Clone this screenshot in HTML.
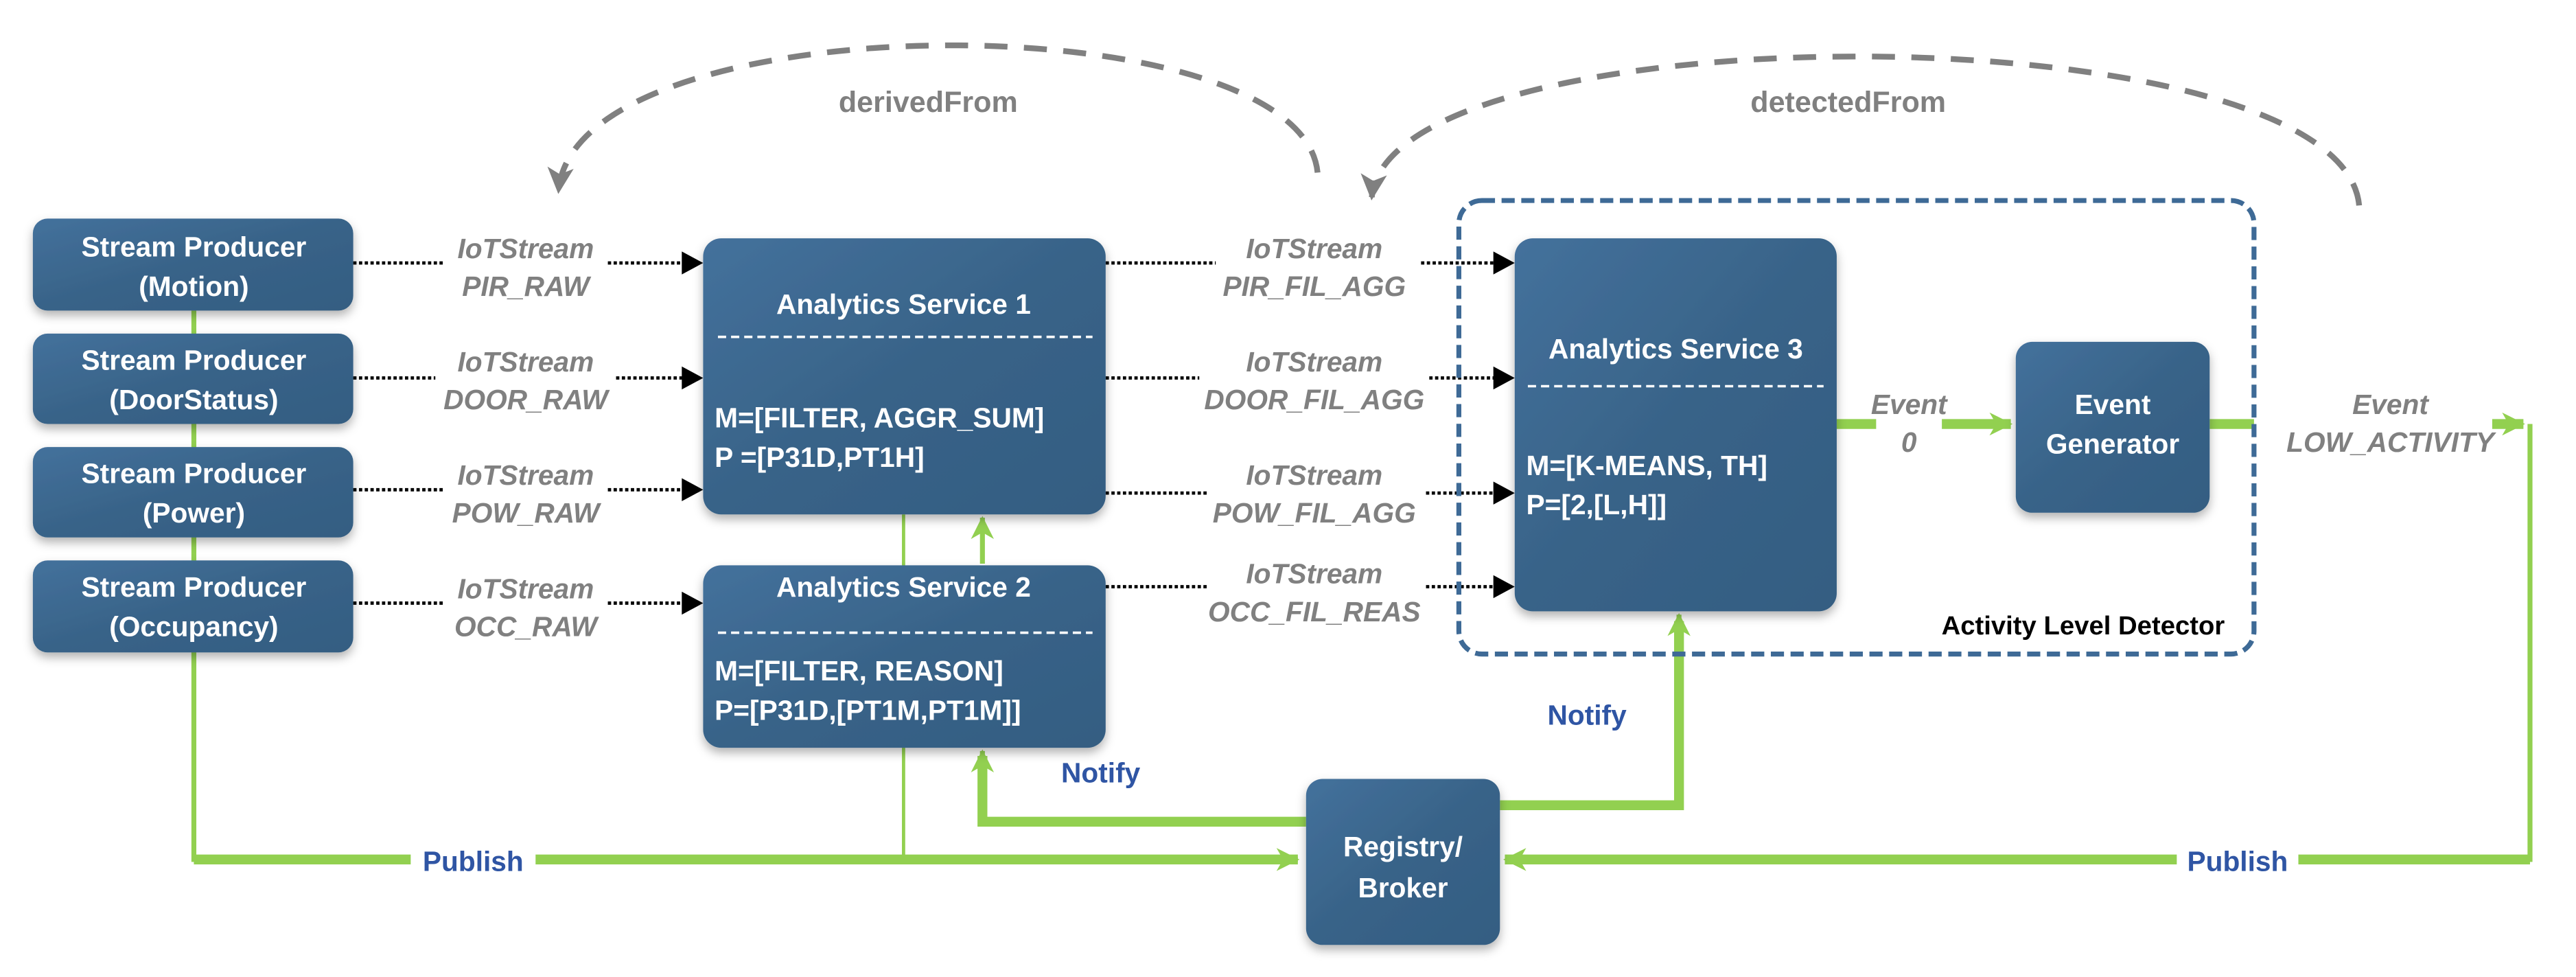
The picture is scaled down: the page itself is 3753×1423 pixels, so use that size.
<!DOCTYPE html>
<html><head><meta charset="utf-8"><style>html,body{margin:0;padding:0;background:#fff}svg{display:block}</style></head>
<body>
<svg width="3753" height="1423" viewBox="0 0 1568 594.5" xmlns="http://www.w3.org/2000/svg" font-family="Liberation Sans, sans-serif">
<defs>
<linearGradient id="g" x1="0" y1="0" x2="1" y2="1"><stop offset="0" stop-color="#44719c"/><stop offset="0.5" stop-color="#386388"/><stop offset="1" stop-color="#345d82"/></linearGradient>
<filter id="sh" x="-20%" y="-20%" width="140%" height="140%"><feDropShadow dx="0" dy="3" stdDeviation="3" flood-color="#000" flood-opacity="0.3"/></filter>
<marker id="ag" markerWidth="14" markerHeight="14" refX="13" refY="7" orient="auto" markerUnits="userSpaceOnUse"><path d="M0,0 L14,7 L0,14 L4,7 z" fill="#92d050"/></marker>
<marker id="agr" markerWidth="16" markerHeight="16" refX="14" refY="8" orient="auto" markerUnits="userSpaceOnUse"><path d="M0,0 L16,8 L0,16 L4,8 z" fill="#808080"/></marker>
</defs>

<!-- dashed arcs -->
<path d="M802,105 C792,0 350,0 340,116" fill="none" stroke="#808080" stroke-width="3.5" stroke-dasharray="14,10" marker-end="url(#agr)"/>
<path d="M1436,125 C1425,5 845,5 835,120" fill="none" stroke="#808080" stroke-width="3.5" stroke-dasharray="14,10" marker-end="url(#agr)"/>
<text x="565" y="68" font-size="18" font-weight="bold" fill="#808080" text-anchor="middle">derivedFrom</text>
<text x="1125" y="68" font-size="18" font-weight="bold" fill="#808080" text-anchor="middle">detectedFrom</text>

<!-- green lines -->
<g fill="none" stroke="#92d050">
<path d="M118,189 V523 H790" stroke-width="3"/>
<path d="M118,523 H790" stroke-width="6" marker-end="url(#ag)"/>
<path d="M550,313 V523" stroke-width="2"/>
<path d="M598,343 V315" stroke-width="3" marker-end="url(#ag)"/>
<path d="M795,500 H598 V460" stroke-width="6"/>
<path d="M598,470 V457" stroke-width="3" marker-end="url(#ag)"/>
<path d="M913,490 H1022 V378" stroke-width="6"/>
<path d="M1022,400 V374" stroke-width="3" marker-end="url(#ag)"/>
<path d="M1118,258 H1224" stroke-width="6" marker-end="url(#ag)"/>
<path d="M1345,258 H1536" stroke-width="6" marker-end="url(#ag)"/>
<path d="M1540,258 V523 H918" stroke-width="3"/>
<path d="M1540,523 H916" stroke-width="6" marker-end="url(#ag)"/>
</g>
<rect x="250" y="512" width="76" height="22" fill="#fff"/>
<rect x="1325" y="512" width="74" height="22" fill="#fff"/>
<rect x="1142" y="232" width="40" height="46" fill="#fff"/>
<rect x="1372" y="232" width="145" height="46" fill="#fff"/>
<text x="288" y="530" font-size="17" font-weight="bold" fill="#2f55a4" text-anchor="middle">Publish</text>
<text x="1362" y="530" font-size="17" font-weight="bold" fill="#2f55a4" text-anchor="middle">Publish</text>
<text x="670" y="476" font-size="17" font-weight="bold" fill="#2f55a4" text-anchor="middle">Notify</text>
<text x="966" y="441" font-size="17" font-weight="bold" fill="#2f55a4" text-anchor="middle">Notify</text>

<!-- dotted lines -->
<g stroke="#000" stroke-width="2" stroke-dasharray="2,1.5" fill="none">
<path d="M215,160 H270 M370,160 H425" /><path d="M215,230 H265 M375,230 H425"/><path d="M215,298 H270 M370,298 H425"/><path d="M215,367 H270 M370,367 H425"/>
<path d="M673,160 H740 M865,160 H918"/><path d="M673,230 H730 M870,230 H918"/><path d="M673,300 H735 M868,300 H918"/><path d="M673,357 H735 M868,357 H918"/>
</g>
<g fill="#000">
<path d="M415,153 L428,160 L415,167z"/><path d="M415,223 L428,230 L415,237z"/><path d="M415,291 L428,298 L415,305z"/><path d="M415,360 L428,367 L415,374z"/>
<path d="M909,153 L922,160 L909,167z"/><path d="M909,223 L922,230 L909,237z"/><path d="M909,293 L922,300 L909,307z"/><path d="M909,350 L922,357 L909,364z"/>
</g>
<g font-size="17" font-weight="bold" font-style="italic" fill="#808080" text-anchor="middle">
<text x="320" y="157">IoTStream</text><text x="320" y="180">PIR_RAW</text>
<text x="320" y="226">IoTStream</text><text x="320" y="249">DOOR_RAW</text>
<text x="320" y="295">IoTStream</text><text x="320" y="318">POW_RAW</text>
<text x="320" y="364">IoTStream</text><text x="320" y="387">OCC_RAW</text>
<text x="800" y="157">IoTStream</text><text x="800" y="180">PIR_FIL_AGG</text>
<text x="800" y="226">IoTStream</text><text x="800" y="249">DOOR_FIL_AGG</text>
<text x="800" y="295">IoTStream</text><text x="800" y="318">POW_FIL_AGG</text>
<text x="800" y="355">IoTStream</text><text x="800" y="378">OCC_FIL_REAS</text>
<text x="1162" y="252">Event</text><text x="1162" y="275">0</text>
<text x="1455" y="252">Event</text><text x="1455" y="275">LOW_ACTIVITY</text>
</g>

<!-- dashed container -->
<rect x="888" y="122" width="484" height="276" rx="14" fill="none" stroke="#3e6a96" stroke-width="3" stroke-dasharray="8,4"/>
<text x="1268" y="386" font-size="16" font-weight="bold" fill="#000" text-anchor="middle">Activity Level Detector</text>

<!-- boxes -->
<g filter="url(#sh)" fill="url(#g)">
<rect x="20" y="133" width="195" height="56" rx="9"/>
<rect x="20" y="203" width="195" height="55" rx="9"/>
<rect x="20" y="272" width="195" height="55" rx="9"/>
<rect x="20" y="341" width="195" height="56" rx="9"/>
<rect x="428" y="145" width="245" height="168" rx="11"/>
<rect x="428" y="344" width="245" height="111" rx="11"/>
<rect x="922" y="145" width="196" height="227" rx="11"/>
<rect x="1227" y="208" width="118" height="104" rx="10"/>
<rect x="795" y="474" width="118" height="101" rx="10"/>
</g>
<g fill="#fff" font-weight="bold" font-size="17" text-anchor="middle">
<text x="118" y="156">Stream Producer</text><text x="118" y="180">(Motion)</text>
<text x="118" y="225">Stream Producer</text><text x="118" y="249">(DoorStatus)</text>
<text x="118" y="294">Stream Producer</text><text x="118" y="318">(Power)</text>
<text x="118" y="363">Stream Producer</text><text x="118" y="387">(Occupancy)</text>
<text x="550" y="191">Analytics Service 1</text>
<text x="550" y="363">Analytics Service 2</text>
<text x="1020" y="218">Analytics Service 3</text>
<text x="1286" y="252">Event</text><text x="1286" y="276">Generator</text>
<text x="854" y="521">Registry/</text><text x="854" y="546">Broker</text>
</g>
<g stroke="#fff" stroke-width="1.5" stroke-dasharray="5,3">
<path d="M437,205 H665"/><path d="M437,385 H665"/><path d="M930,235 H1110"/>
</g>
<g fill="#fff" font-weight="bold" font-size="17">
<text x="435" y="260">M=[FILTER, AGGR_SUM]</text>
<text x="435" y="284">P =[P31D,PT1H]</text>
<text x="435" y="414">M=[FILTER, REASON]</text>
<text x="435" y="438">P=[P31D,[PT1M,PT1M]]</text>
<text x="929" y="289">M=[K-MEANS, TH]</text>
<text x="929" y="313">P=[2,[L,H]]</text>
</g>
</svg>
</body></html>
